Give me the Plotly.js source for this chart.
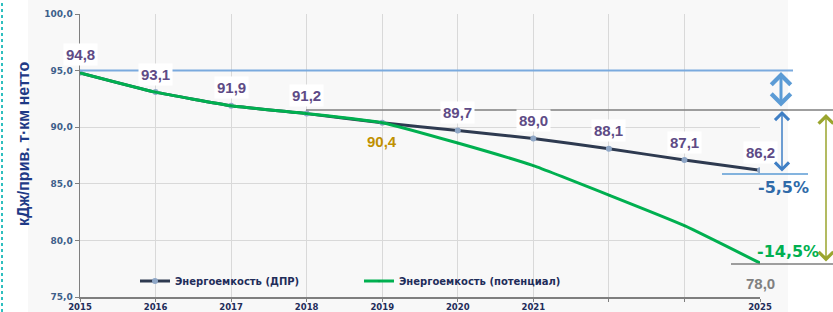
<!DOCTYPE html>
<html>
<head>
<meta charset="utf-8">
<script src="https://cdn.plot.ly/plotly-3.0.1.min.js"></script>
<style>html,body{margin:0;padding:0;background:#fff}#chart{width:833px;height:312px}</style>
</head>
<body>
<div id="chart"></div>
<script>
// ---- data ----
const years = ['2015','2016','2017','2018','2019','2020','2021','','','2025'];
const dprValues = [94.8, 93.1, 91.9, 91.2, 90.4, 89.7, 89.0, 88.1, 87.1, 86.2];
const potValues = [94.8, 93.1, 91.9, 91.2, 90.4, 88.6, 86.6, 84.0, 81.3, 78.0];
const seriesNames = ['Энергоемкость (ДПР)', 'Энергоемкость (потенциал)'];
const yTickVals = [75, 80, 85, 90, 95, 100];
const yTickText = ['75,0', '80,0', '85,0', '90,0', '95,0', '100,0'];
const yTitle = 'кДж/прив. т·км нетто';
const dprChange = '-5,5%';
const potChange = '-14,5%';
const baseLevel = 95;

const idx = years.map((_, i) => i);
const fmt = v => v.toFixed(1).replace('.', ',');

// geometry helpers (plot area: l=80, r=760, t=14, b=297)
const L = 80, R = 760, T = 14, B = 297;
const px = x => (x - L) / (R - L);
const py = y => (B - y) / (B - T);

const traces = [
  {x: idx, y: dprValues, name: seriesNames[0], type: 'scatter', mode: 'lines+markers',
   line: {color: '#2e3a50', width: 3, shape: 'spline', smoothing: 0.4},
   marker: {color: '#8ea6c6', size: 6}},
  {x: idx, y: potValues, name: seriesNames[1], type: 'scatter', mode: 'lines+markers',
   line: {color: '#00b050', width: 3, shape: 'spline', smoothing: 0.4},
   marker: {color: '#00a048', size: 3, symbol: 'triangle-down'}}
];

const labelFont = {family: 'Liberation Sans', size: 15, weight: 'bold', color: '#5e4b86'};
const annotations = [];
dprValues.forEach((v, i) => {
  const below = i === 4;
  annotations.push({x: i, y: v, xref: 'x', yref: 'y', text: fmt(v), showarrow: false,
    xanchor: 'center', yanchor: 'middle',
    yshift: below ? -19 : 18, bgcolor: below ? 'rgba(0,0,0,0)' : '#ffffff', borderpad: 2,
    font: Object.assign({}, labelFont, below ? {color: '#c09000'} : {})});
});
annotations.push({x: 9, y: potValues[9], xref: 'x', yref: 'y', text: fmt(potValues[9]), showarrow: false,
  xanchor: 'center', yanchor: 'middle',
  yshift: -20, font: Object.assign({}, labelFont, {color: '#808080'})});

// y axis title
annotations.push({x: px(23), y: py(144), xref: 'paper', yref: 'paper', text: yTitle, textangle: -90,
  xanchor: 'center', yanchor: 'middle',
  showarrow: false, font: {family: 'Liberation Sans', size: 16, weight: 'bold', color: '#1f3a86'}});

// change annotations
annotations.push({x: px(783), y: py(187), xref: 'paper', yref: 'paper', text: dprChange, showarrow: false,
  xanchor: 'center', yanchor: 'middle',
  font: {family: 'DejaVu Sans', size: 16, weight: 'bold', color: '#2f6aa8'}});
annotations.push({x: px(788), y: py(251), xref: 'paper', yref: 'paper', text: potChange, showarrow: false,
  xanchor: 'center', yanchor: 'middle',
  font: {family: 'DejaVu Sans', size: 16, weight: 'bold', color: '#00b050'}});

// arrows
function arrow(x, y1, y2, color, width, head, size) {
  annotations.push({x: px(x), y: py(y1), xref: 'paper', yref: 'paper', ax: 0, ay: y2 - y1,
    axref: 'pixel', ayref: 'pixel', showarrow: true, text: '', arrowside: 'end+start',
    arrowhead: head, startarrowhead: head, arrowsize: size, startarrowsize: size,
    arrowwidth: width, arrowcolor: color, standoff: 0, startstandoff: 0});
}
arrow(781, 72, 108, '#5b9bd5', 3, 4, 1.25);
arrow(782, 111, 173, '#3f7fc5', 1.5, 4, 1.8);
arrow(826, 114, 263, '#9aa52e', 1.5, 4, 1.9);

const shapes = [
  // background
  {type: 'rect', xref: 'paper', yref: 'paper', x0: px(28), x1: px(788), y0: py(330), y1: py(-10),
   fillcolor: '#f8f8f8', line: {width: 0}, layer: 'below'},
  // dotted left border
  {type: 'line', xref: 'paper', yref: 'paper', x0: px(2), x1: px(2), y0: py(312), y1: py(0),
   line: {color: '#2fbfbf', width: 2, dash: 'dot'}},
  // base level line
  {type: 'line', xref: 'paper', yref: 'y', x0: 0, x1: px(793), y0: baseLevel, y1: baseLevel,
   line: {color: '#7aaade', width: 2}},
  // gray reference line
  {type: 'line', xref: 'paper', yref: 'paper', x0: px(306), x1: px(833), y0: py(110), y1: py(110),
   line: {color: '#7f7f7f', width: 1.5}},
  // blue base under 86,2
  {type: 'line', xref: 'paper', yref: 'paper', x0: px(722), x1: px(808), y0: py(174), y1: py(174),
   line: {color: '#5b9bd5', width: 1.5}},
  // gray base under 78,0
  {type: 'line', xref: 'paper', yref: 'paper', x0: px(731), x1: px(833), y0: py(264), y1: py(264),
   line: {color: '#7f7f7f', width: 1.5}}
];

const layout = {
  width: 833, height: 312,
  margin: {l: L, r: 833 - R, t: T, b: 312 - B, pad: 0},
  paper_bgcolor: '#ffffff', plot_bgcolor: '#f8f8f8',
  showlegend: true,
  legend: {orientation: 'h', x: px(135), y: py(281), xanchor: 'left', yanchor: 'middle',
    bgcolor: 'rgba(0,0,0,0)', entrywidth: 179,
    font: {family: 'DejaVu Sans', size: 10, weight: 'bold', color: '#1f2d5a'}},
  xaxis: {range: [0, 9], tickvals: idx, ticktext: years, showgrid: true, gridcolor: '#d9d9d9',
    showline: true, linecolor: '#7f7f7f', linewidth: 1.5, ticks: 'outside', ticklen: 3, tickcolor: '#7f7f7f',
    ticklabelstandoff: -2,
    tickfont: {family: 'DejaVu Sans', size: 8.5, weight: 'bold', color: '#1f2d5a'}, zeroline: false,
    automargin: false, fixedrange: true},
  yaxis: {range: [75, 100], tickvals: yTickVals, ticktext: yTickText, showgrid: true, gridcolor: '#d9d9d9',
    showline: true, linecolor: '#7f7f7f', linewidth: 1.5, ticks: 'outside', ticklen: 4, tickcolor: '#7f7f7f',
    tickfont: {family: 'DejaVu Sans', size: 9, weight: 'bold', color: '#3e5f8a'}, zeroline: false,
    automargin: false, fixedrange: true},
  annotations: annotations,
  shapes: shapes
};

Plotly.newPlot('chart', traces, layout, {displayModeBar: false, staticPlot: true});
</script>
</body>
</html>
